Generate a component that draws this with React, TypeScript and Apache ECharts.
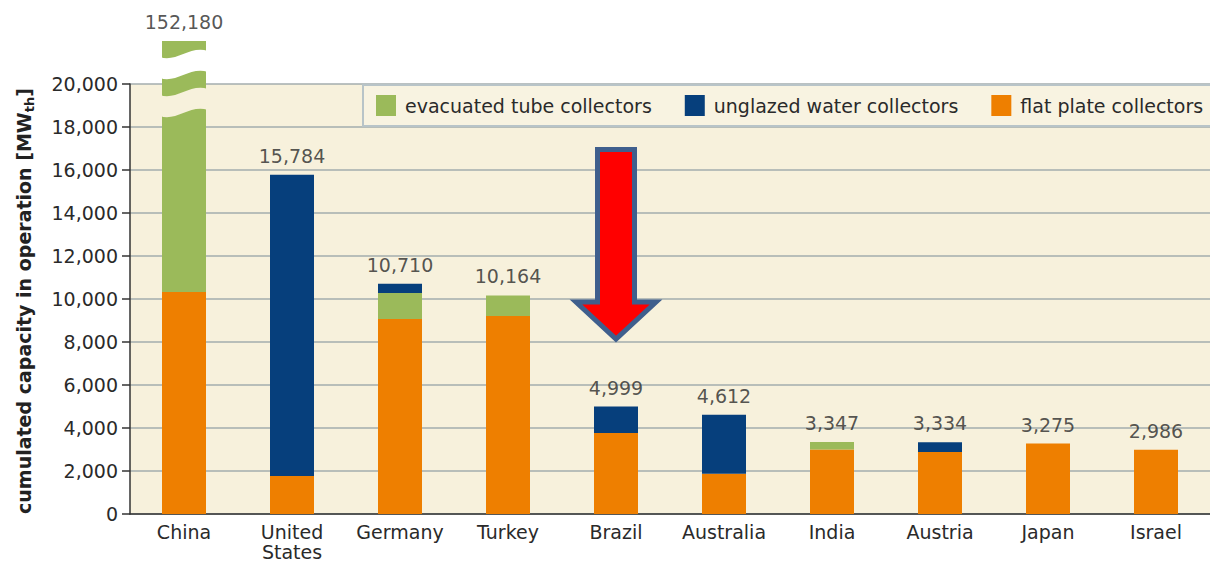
import React, { useEffect, useRef } from "react";
import * as echarts from "echarts";

const categories = ["China", "United States", "Germany", "Turkey", "Brazil", "Australia", "India", "Austria", "Japan", "Israel"];
const totals = [152180, 15784, 10710, 10164, 4999, 4612, 3347, 3334, 3275, 2986];
const flatPlate = [10330, 1770, 9070, 9210, 3770, 1870, 3000, 2880, 3275, 2986];
const evacuatedTube = [141850, 0, 1210, 954, 0, 0, 347, 0, 0, 0];
const unglazedWater = [0, 14014, 430, 0, 1229, 2742, 0, 454, 0, 0];
const yTicks = { min: 0, max: 20000, interval: 2000 };
const displayCap = 22000; // visual top of the broken China bar

const FONT = "'DejaVu Sans', Verdana, sans-serif";
const C_EVAC = "#9bba5a";
const C_UNGL = "#063f7c";
const C_FLAT = "#ee7f00";
const C_BG = "#f7f1dc";
const C_TEXT = "#2a2a2a";

const breakPath = "M0,7 C16,13 30,-5 48,1 L48,22 C30,16 16,34 0,28 Z";

export default function App() {
  const ref = useRef<HTMLDivElement>(null);
  useEffect(() => {
    if (!ref.current) return;
    try {
      echarts.graphic.registerShape("barBreak", echarts.graphic.extendPath(breakPath, {}) as any);
    } catch (e) {}
    const chart = echarts.init(ref.current, null, { renderer: "svg" });
    const evacDisplay = evacuatedTube.map((v, i) => Math.min(v, displayCap - flatPlate[i] - unglazedWater[i]));
    const totalDisplay = totals.map((v) => Math.min(v, displayCap));
    const fmt = (v: number) => v.toLocaleString("en-US");
    chart.setOption({
      animation: false,
      backgroundColor: "#ffffff",
      grid: { left: 130, right: -10, top: 84, bottom: 49, show: true, backgroundColor: C_BG, borderWidth: 0 },
      legend: {
        left: 363,
        top: 85,
        width: 1000,
        icon: "rect",
        itemWidth: 20,
        itemHeight: 21,
        itemGap: 33,
        padding: [10, 16, 10, 13],
        borderColor: "#b8c4c8",
        borderWidth: 2,
        backgroundColor: "#f8f3e1",
        selectedMode: false,
        textStyle: { fontSize: 19, color: C_TEXT, fontFamily: FONT, padding: [0, 0, 0, 4] },
        data: ["evacuated tube collectors", "unglazed water collectors", "flat plate collectors"],
      },
      xAxis: {
        type: "category",
        data: categories,
        axisLine: { lineStyle: { color: "#333", width: 1.5 } },
        axisTick: { length: 8, lineStyle: { color: "#333", width: 1.5 } },
        axisLabel: {
          interval: 0,
          hideOverlap: false,
          fontSize: 19,
          color: C_TEXT,
          fontFamily: FONT,
          margin: 8,
          lineHeight: 20,
          formatter: (v: string) => v.replace(" ", "\n"),
        },
      },
      yAxis: {
        type: "value",
        min: yTicks.min,
        max: yTicks.max,
        interval: yTicks.interval,
        axisLine: { show: true, lineStyle: { color: "#333", width: 1.5 } },
        axisTick: { show: true, length: 8, lineStyle: { color: "#333", width: 1.5 } },
        axisLabel: { fontSize: 19, color: C_TEXT, fontFamily: FONT, margin: 12, formatter: fmt },
        splitLine: { lineStyle: { color: "#a3adae", width: 1.5 } },
      },
      series: [
        { name: "flat plate collectors", type: "bar", stack: "s", barWidth: 44, clip: false, itemStyle: { color: C_FLAT }, data: flatPlate },
        { name: "evacuated tube collectors", type: "bar", stack: "s", barWidth: 44, clip: false, itemStyle: { color: C_EVAC }, data: evacDisplay },
        { name: "unglazed water collectors", type: "bar", stack: "s", barWidth: 44, clip: false, itemStyle: { color: C_UNGL }, data: unglazedWater },
        {
          name: "total",
          type: "scatter",
          clip: false,
          silent: true,
          symbolSize: 1,
          itemStyle: { color: "rgba(0,0,0,0)" },
          z: 10,
          label: {
            show: true,
            position: "top",
            distance: 9,
            fontSize: 19,
            color: C_TEXT,
            fontFamily: FONT,
            formatter: (p: any) => fmt(totals[p.dataIndex]),
          },
          data: totalDisplay,
        },
      ],
    });

    const top = chart.convertToPixel({ gridIndex: 0 }, [0, displayCap]) as number[];
    const cx = top[0];
    const capY = top[1];
    chart.setOption({
      graphic: [
        { type: "barBreak", x: cx - 24, y: capY + 9, z: 100, silent: true, style: { fill: "#ffffff" } },
        { type: "barBreak", x: cx - 24, y: capY + 47, z: 100, silent: true, style: { fill: C_BG } },
        {
          type: "polygon",
          z: 100,
          silent: true,
          shape: { points: [[597.5, 149.5], [634.5, 149.5], [634.5, 302], [656, 302], [616, 339], [576, 302], [597.5, 302]] },
          style: { fill: "#ff0000", stroke: "#3f5f8d", lineWidth: 5, lineJoin: "miter" },
        },
        {
          type: "text",
          x: 24,
          y: 301,
          rotation: Math.PI / 2,
          z: 100,
          silent: true,
          style: {
            text: "{a|cumulated capacity in operation [MW}{s|th}{a|]}",
            align: "center",
            verticalAlign: "middle",
            rich: {
              a: { fontSize: 19, fontWeight: "bold", fontFamily: FONT, fill: "#222", lineHeight: 24 },
              s: { fontSize: 13, fontWeight: "bold", fontFamily: FONT, fill: "#222", lineHeight: 24, verticalAlign: "bottom" },
            },
          },
        },
      ],
    });
    return () => chart.dispose();
  }, []);
  return <div ref={ref} style={{ position: "fixed", left: 0, top: 0, width: 1210, height: 563 }} />;
}
